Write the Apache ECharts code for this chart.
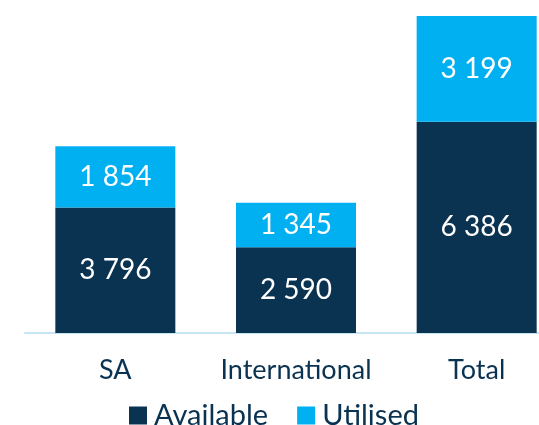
<!DOCTYPE html>
<html>
<head>
<meta charset="utf-8">
<title>Available and utilised</title>
<script src="https://cdn.jsdelivr.net/npm/echarts@6/dist/echarts.min.js"></script>
<style>
  html, body { margin: 0; padding: 0; background: #ffffff; overflow: hidden; }
  /* the drawing is wider than the page so the last category band is cut at the right edge */
  #chart { width: 567px; height: 425px; }
</style>
</head>
<body>
<div id="chart"></div>
<script>
// Categories and stacked values
const categories = ['SA', 'International', 'Total'];
const available = [3796, 2590, 6386];
const utilised = [1854, 1345, 3199];
const legendNames = ['Available', 'Utilised'];

const NAVY = '#0a3251';
const CYAN = '#00b0f0';
const FONT = 'Lato, "Open Sans", sans-serif';

// Thousands separated by a space, e.g. 3 796
const fmt = v => String(v).replace(/\B(?=(\d{3})+(?!\d))/g, ' ');

const stackMax = Math.max(...available.map((v, i) => v + utilised[i]));

const chart = echarts.init(document.getElementById('chart'), null, { renderer: 'canvas' });

const segmentLabel = {
  show: true,
  position: 'inside',
  color: '#ffffff',
  fontFamily: FONT,
  fontSize: 28,
  formatter: p => fmt(p.value)
};

chart.setOption({
  animation: false,
  backgroundColor: '#ffffff',
  grid: { left: 25, right: 0, top: 16, bottom: 92, containLabel: false },
  legend: {
    data: legendNames,
    left: 124,
    top: 396,
    icon: 'rect',
    itemWidth: 18,
    itemHeight: 18,
    itemGap: 29,
    textStyle: { color: NAVY, fontFamily: FONT, fontSize: 29, padding: [0, 0, 0, 2] }
  },
  xAxis: {
    type: 'category',
    data: categories,
    axisLine: { show: true, lineStyle: { color: '#c5e5f5', width: 2 } },
    axisTick: { show: false },
    axisLabel: { color: NAVY, fontFamily: FONT, fontSize: 27, margin: 24, interval: 0 }
  },
  yAxis: {
    type: 'value',
    min: 0,
    max: stackMax,
    show: false,
    splitLine: { show: false }
  },
  series: [
    {
      name: legendNames[0],
      type: 'bar',
      stack: 'total',
      data: available,
      barWidth: 120,
      itemStyle: { color: NAVY },
      label: segmentLabel
    },
    {
      name: legendNames[1],
      type: 'bar',
      stack: 'total',
      data: utilised,
      barWidth: 120,
      itemStyle: { color: CYAN },
      label: segmentLabel
    }
  ]
});
</script>
</body>
</html>
